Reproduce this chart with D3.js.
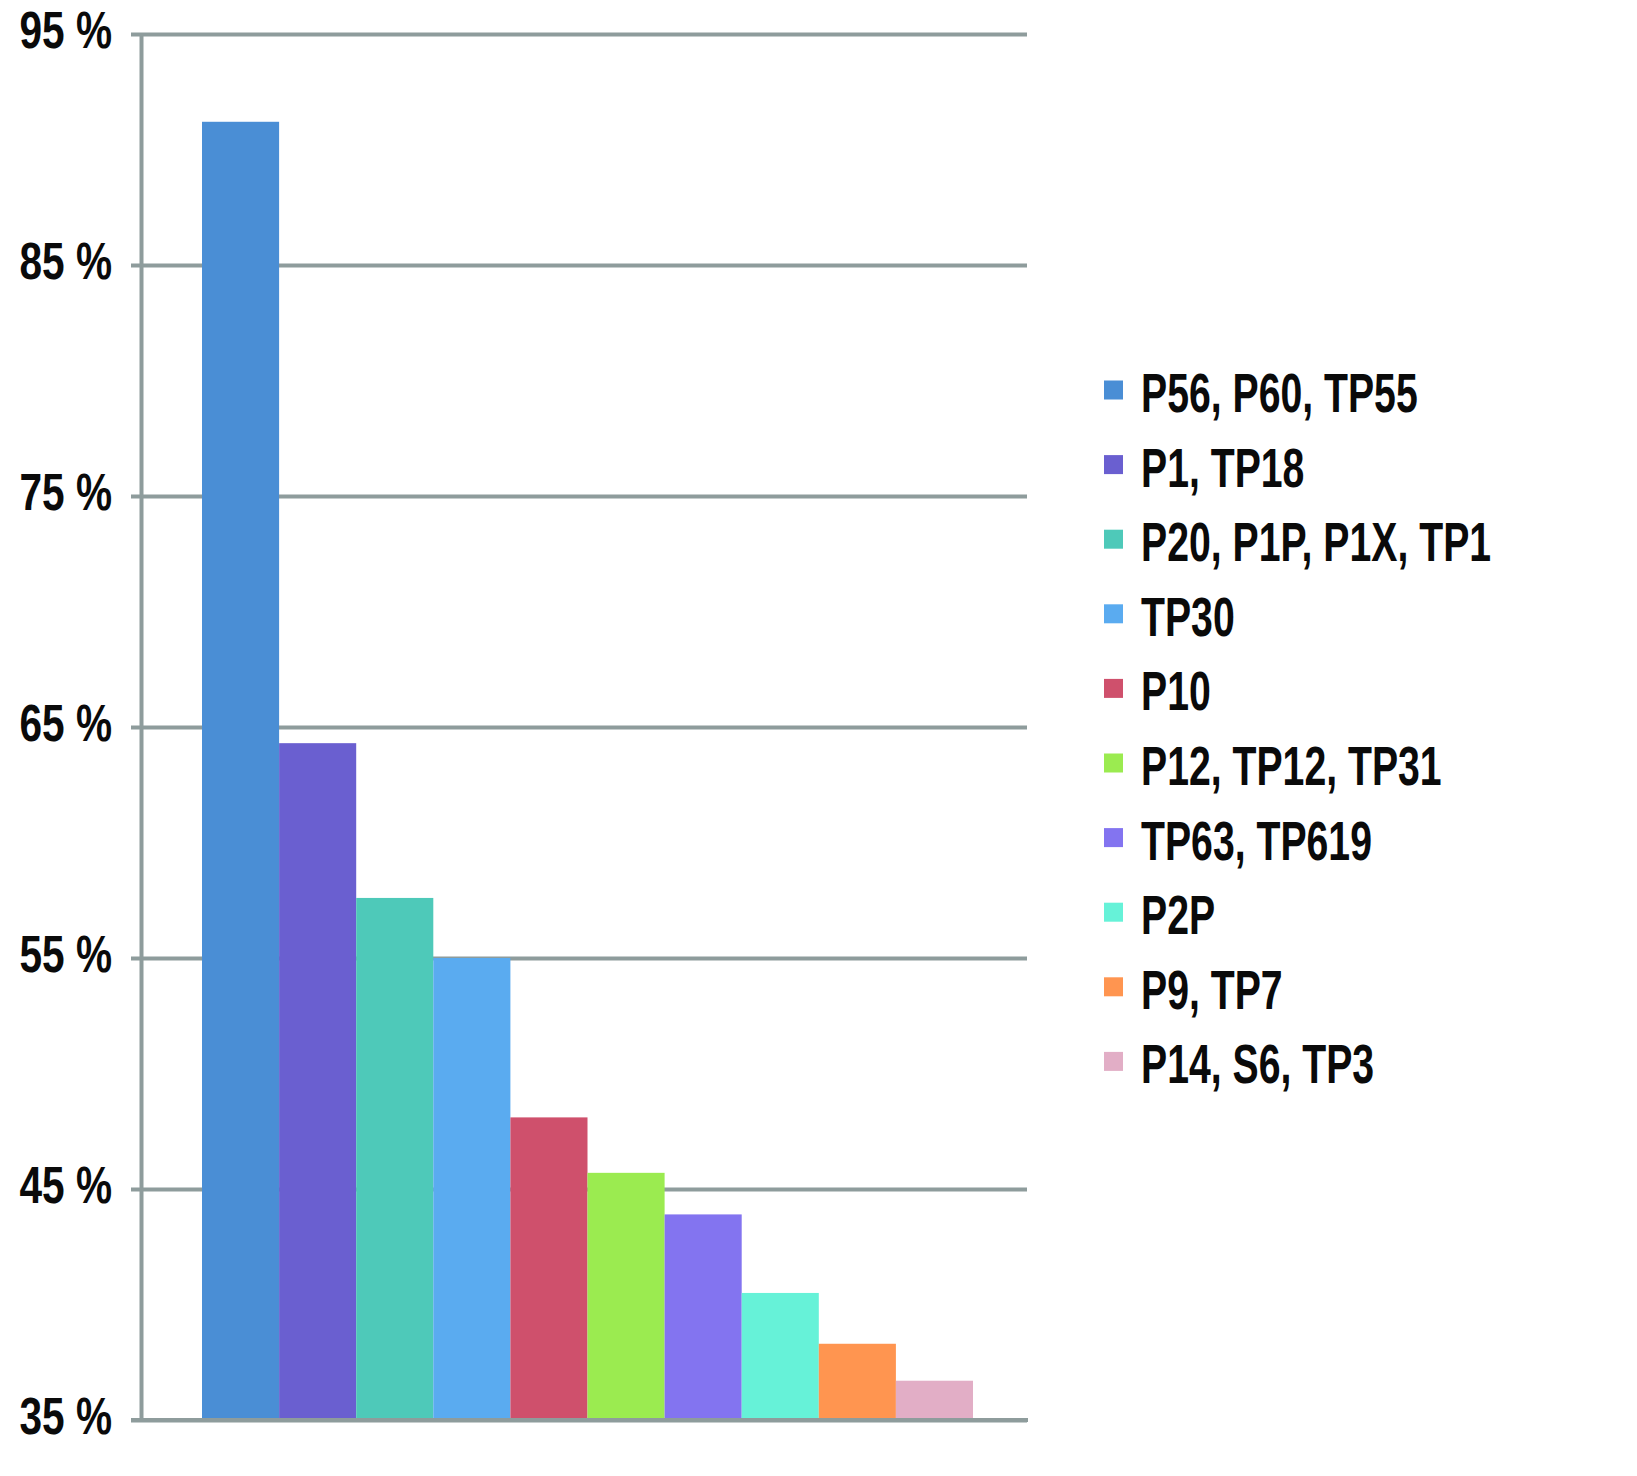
<!DOCTYPE html>
<html>
<head>
<meta charset="utf-8">
<script src="https://cdn.jsdelivr.net/npm/d3@7"></script>
<style>
  body { margin: 0; background: #fff; }
  text { font-family: "Liberation Sans", Arial, sans-serif; font-weight: bold; fill: #0a0a0a; }
</style>
</head>
<body>
<svg id="chart"></svg>
<script>
const categories = [
  "P56, P60, TP55", "P1, TP18", "P20, P1P, P1X, TP1", "TP30", "P10",
  "P12, TP12, TP31", "TP63, TP619", "P2P", "P9, TP7", "P14, S6, TP3"
];
const values = [91.2, 64.3, 57.6, 55.0, 48.1, 45.7, 43.9, 40.5, 38.3, 36.7];
const colors = [
  "#4a8ed5", "#6a5fd0", "#4ec9b9", "#5aabf0", "#cf506c",
  "#9beb50", "#8374f0", "#66f2d8", "#ff9550", "#e2aec6"
];
const yTicks = [35, 45, 55, 65, 75, 85, 95];

const width = 1637;
const height = 1476;
const gridColor = "#8e9c9c";

const svg = d3.select("#chart").attr("width", width).attr("height", height);

const x_scale = d3.scaleBand()
  .domain(categories)
  .range([202, 973])
  .padding(0);

const y_scale = d3.scaleLinear()
  .domain([35, 95])
  .range([1420, 34]);

// grid lines (also serve as tick marks on the left)
svg.append("g")
  .attr("transform", "translate(131,0)")
  .call(d3.axisLeft(y_scale).tickValues(yTicks).tickSize(-896).tickFormat(""))
  .call(g => g.select(".domain").remove())
  .call(g => g.selectAll("line").attr("stroke", gridColor).attr("stroke-width", 4));

// bars
svg.selectAll(".bar")
  .data(values)
  .enter()
  .append("rect")
  .attr("class", "bar")
  .attr("x", (d, i) => x_scale(categories[i]))
  .attr("y", d => y_scale(d))
  .attr("width", x_scale.bandwidth())
  .attr("height", d => y_scale(35) - y_scale(d))
  .attr("fill", (d, i) => colors[i]);

// bottom axis line
svg.append("line")
  .attr("x1", 131).attr("x2", 1028)
  .attr("y1", y_scale(35)).attr("y2", y_scale(35))
  .attr("stroke", gridColor).attr("stroke-width", 4);

// vertical axis with labels
const yAxis = svg.append("g")
  .attr("transform", "translate(141.5,0)")
  .call(d3.axisLeft(y_scale).tickValues(yTicks).tickSize(0).tickPadding(0)
    .tickFormat(d => d + " %"));
yAxis.select(".domain")
  .attr("stroke", gridColor).attr("stroke-width", 4)
  .attr("d", `M0,${y_scale(95)}V${y_scale(35) + 2}`);
yAxis.selectAll("text")
  .attr("x", 0)
  .attr("dy", "13")
  .attr("fill", "#0a0a0a")
  .attr("font-size", null)
  .attr("font-family", null)
  .attr("transform", "translate(-29.5,0) scale(0.78,1)")
  .style("font-size", "52px");

// legend
const legend = svg.append("g").attr("transform", "translate(1104,390)");
const item = legend.selectAll(".item")
  .data(categories)
  .enter()
  .append("g")
  .attr("class", "item")
  .attr("transform", (d, i) => `translate(0,${i * 74.6})`);
item.append("rect")
  .attr("x", 0).attr("y", -9.5)
  .attr("width", 19).attr("height", 19)
  .attr("fill", (d, i) => colors[i]);
item.append("text")
  .attr("transform", "translate(37,22) scale(0.70,1)")
  .style("font-size", "56px")
  .text(d => d);
</script>
</body>
</html>
